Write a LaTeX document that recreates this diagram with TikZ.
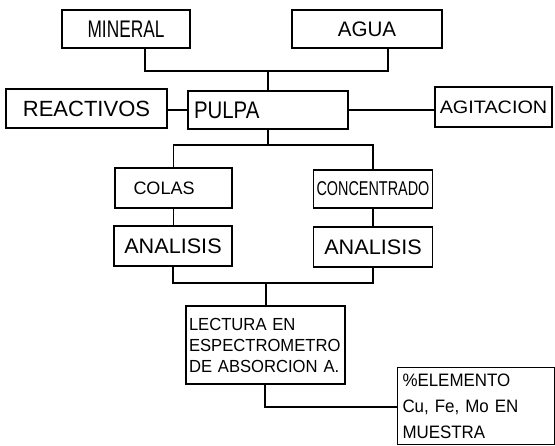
\documentclass[tikz,border=0pt]{standalone}
\usepackage{fontspec}
\setmainfont{Liberation Sans}
\newcommand\hw[3]{\fontspec{Liberation Sans}[FakeStretch=#3]\fontsize{#1}{#2}\selectfont}
\begin{document}
\begin{tikzpicture}[x=1pt,y=-1pt,
  box/.style={draw, line width=1.4pt, rectangle, inner sep=4pt},
  conn/.style={line width=1.4pt}]
\useasboundingbox (0,0) rectangle (555,446);
\node[box, minimum width=128pt, minimum height=38pt, font=\hw{24}{26}{0.72}] (mineral) at (126,29) {MINERAL};
\node[box, minimum width=150pt, minimum height=38pt, font=\hw{21}{24}{0.98}] (agua) at (367,29) {AGUA};
\node[box, minimum width=160pt, minimum height=38pt, text width=148pt, align=left, font=\hw{24}{26}{0.85}] (pulpa) at (268,110) {PULPA};
\node[box, minimum width=161pt, minimum height=39pt, font=\hw{22}{24}{1.0}] (reactivos) at (86.5,108.5) {REACTIVOS};
\node[box, minimum width=117pt, minimum height=40pt, inner sep=1pt, font=\hw{18}{20}{1.1}] (agitacion) at (493.5,107) {AGITACION};
\node[box, minimum width=117pt, minimum height=40pt, text width=80pt, align=left, font=\hw{18}{20}{1.0}] (colas) at (173.5,188) {COLAS};
\node[box, minimum width=119pt, minimum height=38pt, inner sep=1pt, font=\hw{20}{22}{0.72}] (conc) at (373,189) {CONCENTRADO};
\node[box, minimum width=118pt, minimum height=40pt, font=\hw{21}{24}{1.03}] (an1) at (173,246) {ANALISIS};
\node[box, minimum width=119pt, minimum height=40pt, font=\hw{21}{24}{1.03}] (an2) at (373,247) {ANALISIS};
\node[box, minimum width=159pt, minimum height=78pt, text width=153pt, align=left, inner sep=3pt, font=\hw{17.5}{21}{0.95}] (lectura) at (265.5,345) {LECTURA EN\\ESPECTROMETRO\\DE ABSORCION A.};
\node[box, minimum width=157pt, minimum height=77pt, text width=147pt, align=left, inner sep=4pt, font=\hw{18}{26}{0.94}] (elem) at (476,406) {\%ELEMENTO\\Cu, Fe, Mo EN\\MUESTRA};
\coordinate (j1) at (268,71);
\coordinate (j2) at (268,145);
\coordinate (j3) at (266,283);
\coordinate (j4) at (265,407);
\draw[conn] ([xshift=19pt]mineral.south) |- (j1);
\draw[conn] ([xshift=21pt]agua.south) |- (j1);
\draw[conn] (j1) -- (j1 |- pulpa.north);
\draw[conn] (reactivos.east |- pulpa.west) -- (pulpa.west);
\draw[conn] (pulpa.east) -- (pulpa.east -| agitacion.west);
\draw[conn] (j2 |- pulpa.south) -- (j2);
\draw[conn] (colas.north) |- (j2) -| (conc.north);
\draw[conn] (colas.south) -- (colas.south |- an1.north);
\draw[conn] (conc.south) -- (conc.south |- an2.north);
\draw[conn] (an1.south) |- (j3) -| (an2.south);
\draw[conn] (j3) -- (j3 |- lectura.north);
\draw[conn] (j4 |- lectura.south) -- (j4) -- (j4 -| elem.west);
\end{tikzpicture}
\end{document}
